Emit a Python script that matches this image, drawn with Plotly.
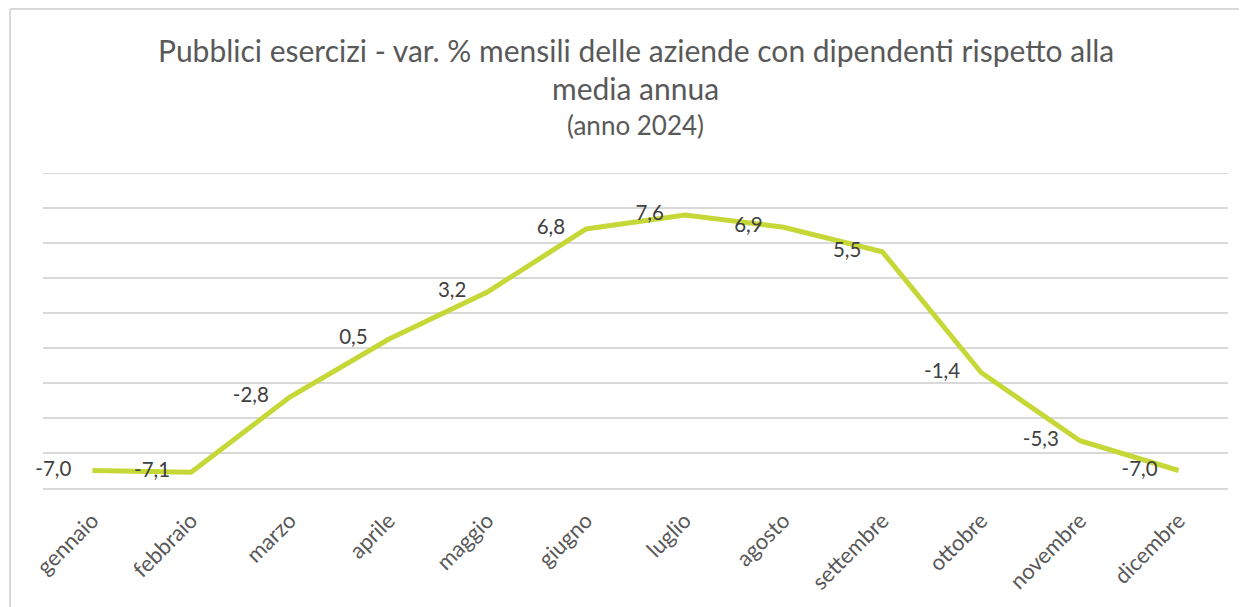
import plotly.graph_objects as go

months = ["gennaio", "febbraio", "marzo", "aprile", "maggio", "giugno",
          "luglio", "agosto", "settembre", "ottobre", "novembre", "dicembre"]
values = [-7.0, -7.1, -2.8, 0.5, 3.2, 6.8, 7.6, 6.9, 5.5, -1.4, -5.3, -7.0]
labels = [f"{v:.1f}".replace(".", ",") for v in values]

title_line1 = "Pubblici esercizi - var. % mensili delle aziende con dipendenti rispetto alla"
title_line2 = "media annua"
subtitle = "(anno 2024)"

Y_MIN, Y_MAX = -8, 10

FONT = "Lato"
OFF = 8  # default page body margin
W, H = 1247 - OFF, 607 - OFF
L, R, T, B = 43 - OFF, 19, 173 - OFF, 119
pw, ph = W - L - R, H - T - B

fig = go.Figure()
fig.add_trace(go.Scatter(
    x=months, y=values, mode="lines+markers+text",
    line=dict(color="#C5D838", width=5),
    marker=dict(size=32, color="rgba(0,0,0,0)"),
    text=labels, textposition="middle left",
    textfont=dict(family=FONT, size=20.5, color="#404040"),
    cliponaxis=False, hoverinfo="skip", showlegend=False,
))

fig.update_layout(
    width=W, height=H,
    margin=dict(l=L, r=R, t=T, b=B, autoexpand=False),
    paper_bgcolor="white", plot_bgcolor="white",
    font=dict(family=FONT, color="#595959"),
    xaxis=dict(
        type="category", range=[-0.5, 11.5], automargin=False,
        tickangle=-45, tickfont=dict(family=FONT, size=22, color="#595959"),
        ticklabelstandoff=9,
        showgrid=False, showline=True, linecolor="#D9D9D9", linewidth=2,
        ticks="", zeroline=False,
    ),
    yaxis=dict(
        range=[Y_MIN, Y_MAX], dtick=2, tick0=Y_MIN, automargin=False,
        showticklabels=False, showgrid=True, gridcolor="#D9D9D9", gridwidth=2,
        zeroline=False, ticks="",
    ),
)

# top gridline (Plotly drops gridlines lying on the plot edge)
fig.add_shape(type="line", xref="paper", yref="y", x0=0, x1=1, y0=Y_MAX, y1=Y_MAX,
              line=dict(color="#D9D9D9", width=2), layer="below")

def py(pix):  # screenshot pixel -> paper y
    return (H - B - (pix - OFF)) / ph

def px(pix):  # screenshot pixel -> paper x
    return ((pix - OFF) - L) / pw

fig.add_annotation(text=title_line1, x=0.5, xref="paper", y=py(50), yref="paper",
                   xanchor="center", yanchor="middle", showarrow=False,
                   font=dict(family=FONT, size=30, color="#595959"))
fig.add_annotation(text=title_line2, x=0.5, xref="paper", y=py(88), yref="paper",
                   xanchor="center", yanchor="middle", showarrow=False,
                   font=dict(family=FONT, size=30, color="#595959"))
fig.add_annotation(text=subtitle, x=0.5, xref="paper", y=py(125), yref="paper",
                   xanchor="center", yanchor="middle", showarrow=False,
                   font=dict(family=FONT, size=26, color="#595959"))

# outer chart-area border (left and top edges visible)
fig.add_shape(type="line", xref="paper", yref="paper",
              x0=px(10), x1=px(10), y0=py(9), y1=py(620),
              line=dict(color="#D9D9D9", width=2))
fig.add_shape(type="line", xref="paper", yref="paper",
              x0=px(10), x1=px(1260), y0=py(9), y1=py(9),
              line=dict(color="#D9D9D9", width=2))

fig.write_html("out.html")
